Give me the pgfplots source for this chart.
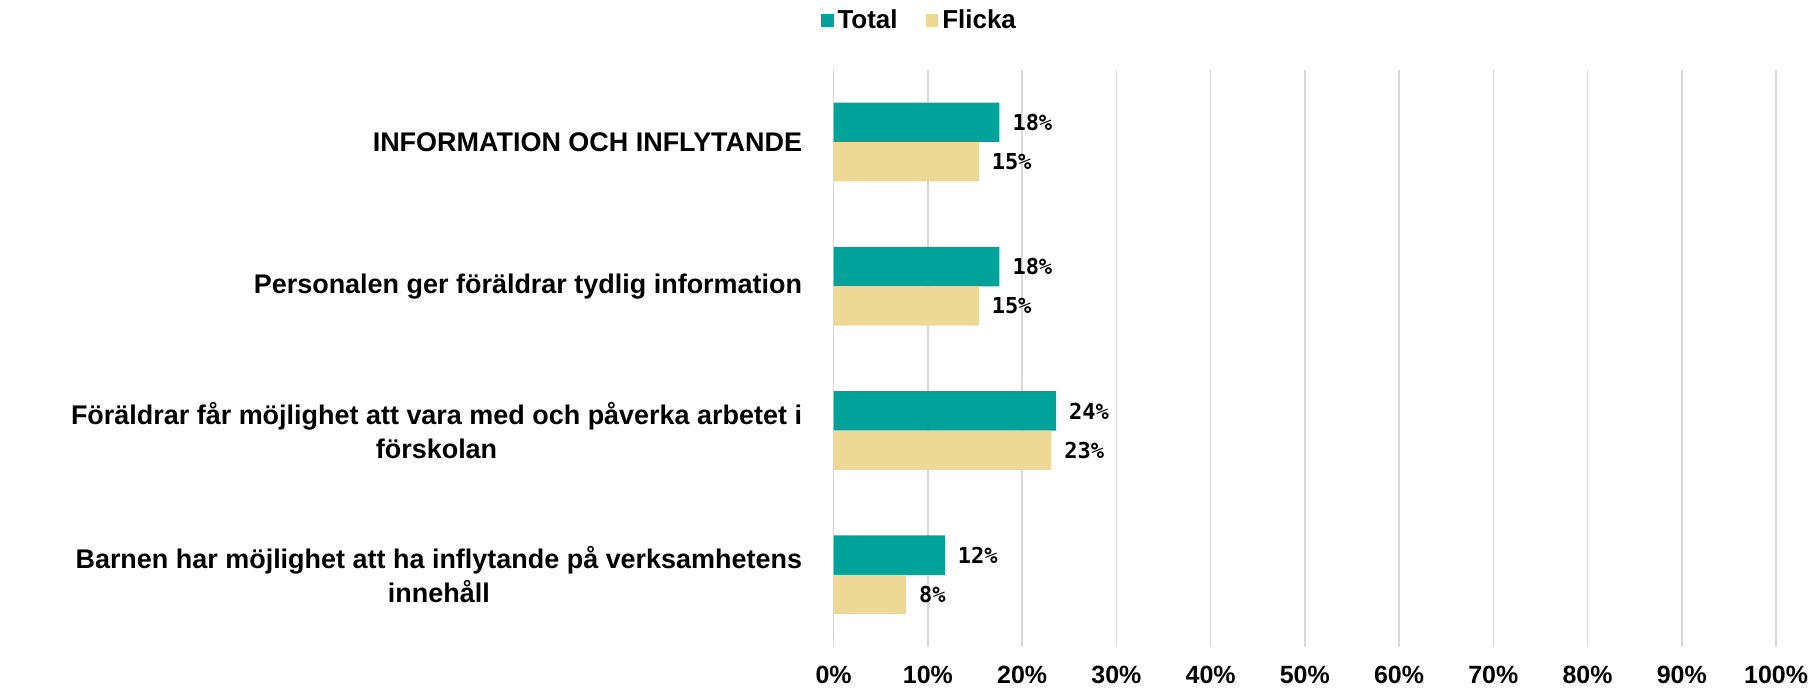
\documentclass[border=0pt]{standalone}
\usepackage{fontspec}
\setmainfont{Liberation Sans}
\newfontfamily\labfont{DejaVu Sans Mono}
\usepackage{pgfplots}
\pgfplotsset{compat=1.18}
\usepackage{pgfplotstable}
\definecolor{cTotal}{RGB}{0,162,154}
\definecolor{cFlicka}{RGB}{237,216,149}
\definecolor{gridgray}{RGB}{217,217,217}
\pgfplotstableread{
y total flicka
0 17.6 15.4
1 17.6 15.4
2 23.6 23.1
3 11.8 7.7
}\data
\begin{document}
\begin{tikzpicture}
\begin{axis}[
  name=ax,
  xbar,
  scale only axis,
  width=472pt, height=289pt,
  xmin=0, xmax=100, ymin=-0.5, ymax=3.5,
  y dir=reverse,
  axis lines*=left,
  x axis line style={draw=none},
  y axis line style={draw=gridgray, line width=0.8pt},
  xtick={0,10,...,100},
  xticklabel={\pgfmathprintnumber{\tick}\%},
  /pgf/number format/assume math mode=true,
  xtick style={draw=none},
  xmajorgrids,
  grid style={draw=gridgray, line width=0.8pt},
  xticklabel style={font=\bfseries\fontsize{12.5}{15}\selectfont, yshift=-2pt},
  ytick={0,1,2,3},
  yticklabels={{INFORMATION OCH INFLYTANDE},{Personalen ger föräldrar tydlig information},{Föräldrar får möjlighet att vara med och påverka arbetet i\\förskolan},{Barnen har möjlighet att ha inflytande på verksamhetens\\innehåll}},
  ytick style={draw=none},
  yticklabel style={align=center, font=\bfseries\fontsize{13.5}{17}\selectfont, xshift=-8pt},
  minor ytick={-0.5,0.5,1.5,2.5,3.5},
  minor tick length=6pt,
  tick align=outside,
  minor tick style={draw=gridgray, line width=0.8pt},
  bar width=19.7pt,
  point meta=x,
  nodes near coords={\pgfmathprintnumber[fixed,precision=0]{\pgfplotspointmeta}\%},
  nodes near coords style={anchor=west, font=\labfont\bfseries\fontsize{11}{13}\selectfont, xshift=3pt, text=black},
  legend columns=2,
  legend style={draw=none, at={(0.092,1.085)}, anchor=center, font=\bfseries\fontsize{13}{15}\selectfont,
    /tikz/every even column/.append style={column sep=12pt}},
  legend image code/.code={\fill[#1] (0pt,-3.2pt) rectangle (6.4pt,3.2pt);},
]
\addplot[fill=cTotal, draw=none, bar shift=9.85pt] table[x=total,y=y]{\data};
\addplot[fill=cFlicka, draw=none, bar shift=-9.85pt] table[x=flicka,y=y]{\data};
\legend{Total,Flicka}
\end{axis}
\pgfresetboundingbox
\path[use as bounding box] ([xshift=-417.5pt,yshift=-23pt]ax.south west) rectangle ([xshift=19pt,yshift=35pt]ax.north east);
\end{tikzpicture}
\end{document}
